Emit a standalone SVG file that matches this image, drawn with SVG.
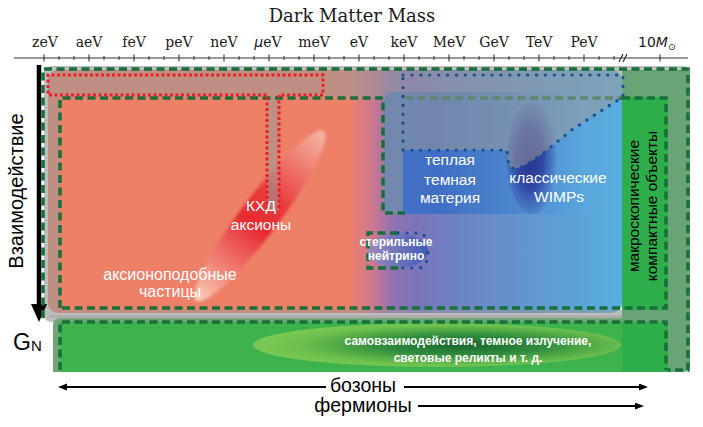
<svg xmlns="http://www.w3.org/2000/svg" width="703" height="427" viewBox="0 0 703 427">
<defs>
<style>
.ax{font-family:"DejaVu Serif",serif;font-size:14px;fill:#1a1a1a;text-anchor:middle}
.title{font-family:"DejaVu Serif",serif;font-size:18px;fill:#1a1a1a;text-anchor:middle}
.w{font-family:"Liberation Sans",Arial,sans-serif;fill:#ffffff;text-anchor:middle;font-size:15.5px}
.wb{font-family:"Liberation Sans",Arial,sans-serif;fill:#ffffff;text-anchor:middle;font-size:12px;font-weight:bold}
.b{font-family:"Liberation Sans",Arial,sans-serif;fill:#000000;text-anchor:middle}
.bs{font-family:"Liberation Sans",Arial,sans-serif;fill:#000000;text-anchor:start}
.ov{fill:#9a9a9a;fill-opacity:0.55}
.gd{fill:none;stroke:#17703a;stroke-width:3.5;stroke-dasharray:8 4.5}
.rd{fill:none;stroke:#ee1c24;stroke-width:3;stroke-dasharray:3 2.5}
.bd{fill:none;stroke:#17508f;stroke-width:3.2;stroke-dasharray:0.1 8.8;stroke-linecap:round}
.arr{stroke:#000;stroke-width:2;fill:none;marker-end:url(#ah)}
</style>
<linearGradient id="mainGrad" gradientUnits="userSpaceOnUse" x1="48" y1="0" x2="622" y2="0">
<stop offset="0" stop-color="#ee8068"/>
<stop offset="0.524" stop-color="#ee8068"/>
<stop offset="0.565" stop-color="#cc7890"/>
<stop offset="0.6" stop-color="#9272b0"/>
<stop offset="0.64" stop-color="#7a74ba"/>
<stop offset="0.72" stop-color="#6c84c2"/>
<stop offset="0.85" stop-color="#6198d0"/>
<stop offset="1" stop-color="#58aee0"/>
</linearGradient>
<linearGradient id="ferm" gradientUnits="userSpaceOnUse" x1="384" y1="0" x2="590" y2="0">
<stop offset="0" stop-color="#4472c4"/>
<stop offset="0.25" stop-color="#3f6ec4"/>
<stop offset="0.6" stop-color="#4a84cc"/>
<stop offset="1" stop-color="#5ca8de"/>
</linearGradient>
<radialGradient id="wimp" cx="0.45" cy="0.5" r="0.55">
<stop offset="0" stop-color="#26338f"/>
<stop offset="0.5" stop-color="#3148a4"/>
<stop offset="0.85" stop-color="#4470c0" stop-opacity="0.7"/>
<stop offset="1" stop-color="#4a80c8" stop-opacity="0.2"/>
</radialGradient>
<radialGradient id="selfint" cx="0.57" cy="0.5" r="0.55" fx="0.57" fy="0.5">
<stop offset="0" stop-color="#1a6630"/>
<stop offset="0.4" stop-color="#2f8c3c"/>
<stop offset="0.8" stop-color="#6cbf4e"/>
<stop offset="1" stop-color="#7ac854"/>
</radialGradient>
<linearGradient id="qcd" x1="0" y1="0" x2="1" y2="0">
<stop offset="0" stop-color="#fbd0c0"/>
<stop offset="0.15" stop-color="#f29585"/>
<stop offset="0.45" stop-color="#e62a30"/>
<stop offset="0.6" stop-color="#e83a3c"/>
<stop offset="0.85" stop-color="#f08a7c"/>
<stop offset="1" stop-color="#f6b6a6"/>
</linearGradient>
<linearGradient id="sterile" x1="0" y1="0" x2="1" y2="0">
<stop offset="0" stop-color="#9a8cc0"/>
<stop offset="1" stop-color="#3a5ab8"/>
</linearGradient>
<filter id="soft" x="-10%" y="-40%" width="120%" height="180%"><feGaussianBlur stdDeviation="1.5"/></filter>
<marker id="ah" markerUnits="userSpaceOnUse" markerWidth="10" markerHeight="8" refX="5" refY="3.5" orient="auto"><path d="M0,0 L9,3.5 L0,7 Z" fill="#000"/></marker>
<marker id="ahv" markerUnits="userSpaceOnUse" markerWidth="18" markerHeight="16" refX="4" refY="8" orient="auto"><path d="M0,0 L18,8 L0,16 Z" fill="#000"/></marker>
</defs>

<rect width="703" height="427" fill="#ffffff"/>

<g id="axis">
<text class="title" x="352" y="22">Dark Matter Mass</text>
<line x1="14" y1="58" x2="688" y2="58" stroke="#333" stroke-width="1.2"/>
<path stroke="#333" stroke-width="1.1" fill="none" d="M44,54.5V61.5M89,54.5V61.5M134,54.5V61.5M179,54.5V61.5M224,54.5V61.5M269,54.5V61.5M314,54.5V61.5M359,54.5V61.5M404,54.5V61.5M449,54.5V61.5M494,54.5V61.5M539,54.5V61.5M584,54.5V61.5M660,54.5V61.5"/>
<path stroke="#333" stroke-width="1" fill="none" d="M59,56V60M74,56V60M104,56V60M119,56V60M149,56V60M164,56V60M194,56V60M209,56V60M239,56V60M254,56V60M284,56V60M299,56V60M329,56V60M344,56V60M374,56V60M389,56V60M419,56V60M434,56V60M464,56V60M479,56V60M509,56V60M524,56V60M554,56V60M569,56V60M599,56V60M614,56V60"/>
<path stroke="#333" stroke-width="1.2" fill="none" d="M619,62L623,54M623,62L627,54"/>
<text class="ax" x="45" y="47">zeV</text>
<text class="ax" x="89" y="47">aeV</text>
<text class="ax" x="134" y="47">feV</text>
<text class="ax" x="179" y="47">peV</text>
<text class="ax" x="224" y="47">neV</text>
<text class="ax" x="268" y="47"><tspan font-family="DejaVu Sans" font-style="italic">μ</tspan>eV</text>
<text class="ax" x="314" y="47">meV</text>
<text class="ax" x="359" y="47">eV</text>
<text class="ax" x="404" y="47">keV</text>
<text class="ax" x="449" y="47">MeV</text>
<text class="ax" x="494" y="47">GeV</text>
<text class="ax" x="539" y="47">TeV</text>
<text class="ax" x="584" y="47">PeV</text>
<text x="638" y="47" font-family="DejaVu Sans" font-size="14" fill="#1a1a1a">10<tspan font-style="italic">M</tspan><tspan font-size="9.5" dy="3">⊙</tspan></text>
</g>

<g id="background">
<rect x="44" y="66" width="646" height="256" rx="8" fill="#e6e6e6"/>
<rect x="48" y="70" width="574" height="243" rx="10" fill="url(#mainGrad)"/>
<path d="M53,326 Q53,318 61,318 H640 V372 H53 Z" fill="#3eb24c"/>
</g>

<g id="macro-column">
<path d="M622,70 H690 V364 Q690,372 682,372 H622 Z" fill="#2eae4a"/>
</g>

<g id="self-interactions">
<ellipse cx="437" cy="345" rx="184" ry="22" fill="url(#selfint)"/>
</g>

<g id="qcd-axions">
<g transform="translate(260,216) rotate(-53)"><ellipse rx="106" ry="19" fill="url(#qcd)" filter="url(#soft)"/></g>
</g>

<g id="fermion-region">
<rect x="384" y="92" width="206" height="122" rx="8" fill="url(#ferm)"/>
<ellipse cx="532" cy="158" rx="25" ry="56" fill="url(#wimp)"/>
</g>

<g id="sterile-neutrino">
<ellipse cx="398" cy="251" rx="30" ry="17" fill="url(#sterile)" opacity="0.9"/>
</g>

<g id="dashed-under">
<path class="gd" d="M405,98 H622"/>
</g>

<g id="overlays">
<path class="ov" fill-rule="evenodd" d="M52,66 H682 Q690,66 690,74 V364 Q690,372 682,372 H53 V322 H52 Q44,322 44,314 V74 Q44,66 52,66 Z M60,97 H668 V310 H60 Z M60,322 H668 V372 H60 Z"/>
<rect class="ov" x="267" y="97" width="12" height="113"/>
<path class="ov" d="M384,97 H403 V214 H392 Q384,214 384,206 Z"/>
<path class="ov" d="M403,97 H622 L607,107 L573,129 L553,145 Q536,160 521,167 Q509,172 508,160 L507,150 H403 Z"/>
<line x1="50" y1="316.5" x2="622" y2="316.5" stroke="#a8a8a8" stroke-width="2"/>
</g>

<g id="connectors">
<line x1="39" y1="65" x2="39" y2="308" stroke="#000" stroke-width="4.5" marker-end="url(#ahv)"/>
<line class="arr" x1="326" y1="387" x2="62" y2="387"/>
<line class="arr" x1="404" y1="387" x2="644" y2="387"/>
<line class="arr" x1="418" y1="406" x2="640" y2="406"/>
</g>

<g id="boundaries">
<path class="gd" d="M43,318 V69 H688 V370 H668"/>
<path class="gd" d="M60,308 V98 H383 V213 H405"/>
<path class="gd" d="M622,98 H666 V308 H60"/>
<path class="gd" d="M60,370 V322 H666 V370"/>
<path class="gd" d="M398,233 H368 V268 H398"/>
<path class="rd" d="M267,210 V95 H48 V75 H323 V95 H279 V210"/>
<path class="bd" d="M403,75 H623 V97 L607,107 L573,129 L553,145 Q536,160 521,167 Q509,172 508,160 L507,150 H403 Z"/>
<path class="bd" d="M398,233 H418 Q428,233 428,250 Q428,268 418,268 H398"/>
</g>

<g id="labels">
<text class="b" font-size="20" transform="translate(23,191) rotate(-90)">Взаимодействие</text>
<text class="bs" x="13" y="350" font-size="23">G</text>
<text class="bs" x="31" y="351" font-size="15">N</text>
<text class="w" x="261" y="211">КХД</text>
<text class="w" x="261" y="230">аксионы</text>
<text class="w" x="170" y="280" style="font-size:16px">аксионоподобные</text>
<text class="w" x="170" y="297" style="font-size:16px">частицы</text>
<text class="w" x="450" y="165">теплая</text>
<text class="w" x="450" y="185">темная</text>
<text class="w" x="450" y="203">материя</text>
<text class="w" x="558" y="183">классические</text>
<text class="w" x="559" y="202">WIMPs</text>
<text class="wb" x="396" y="246">стерильные</text>
<text class="wb" x="396" y="260">нейтрино</text>
<text class="wb" x="468" y="345">самовзаимодействия, темное излучение,</text>
<text class="wb" x="468" y="362">световые реликты и т. д.</text>
<text class="b" font-size="15.5" transform="translate(639,206) rotate(-90)">макроскопические</text>
<text class="b" font-size="15.5" transform="translate(657,206) rotate(-90)">компактные объекты</text>
<text class="b" x="363" y="392" font-size="19.5">бозоны</text>
<text class="b" x="363" y="412" font-size="19.5">фермионы</text>
</g>
</svg>
